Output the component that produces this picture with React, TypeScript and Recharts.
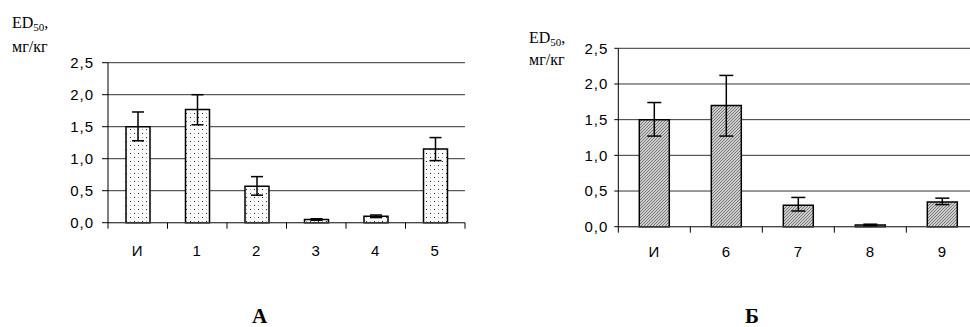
import React from 'react';
import { BarChart, Bar, XAxis, YAxis, CartesianGrid } from 'recharts';

const categoriesA = ['И', '1', '2', '3', '4', '5'];
const valuesA = [1.5, 1.77, 0.57, 0.05, 0.1, 1.15];
const errLowA = [0.22, 0.24, 0.14, 0.012, 0.02, 0.18];
const errHighA = [0.23, 0.23, 0.15, 0.012, 0.02, 0.18];

const categoriesB = ['И', '6', '7', '8', '9'];
const valuesB = [1.5, 1.7, 0.3, 0.025, 0.345];
const errLowB = [0.23, 0.43, 0.08, 0.01, 0.035];
const errHighB = [0.24, 0.42, 0.11, 0.01, 0.055];

const yTicks = [0, 0.5, 1, 1.5, 2, 2.5];

const dataA = categoriesA.map((c, i) => ({ c, v: valuesA[i], r: [valuesA[i] - errLowA[i], valuesA[i] + errHighA[i]] }));
const dataB = categoriesB.map((c, i) => ({ c, v: valuesB[i], r: [valuesB[i] - errLowB[i], valuesB[i] + errHighB[i]] }));

const SANS = '"Liberation Sans", Arial, sans-serif';
const SERIF = '"Liberation Serif", "Times New Roman", serif';

const fmt = (v: number) => v.toFixed(1).replace('.', ',');

const makeTick = (bw: number, n: number, labelDy: number) => (props: any) => {
  const { x, y, payload, index } = props;
  return (
    <g>
      <line x1={x - bw / 2} x2={x - bw / 2} y1={y} y2={y + 6} stroke="#000" strokeWidth={1} />
      {index === n - 1 && (
        <line x1={x + bw / 2} x2={x + bw / 2} y1={y} y2={y + 6} stroke="#000" strokeWidth={1} />
      )}
      <text x={x} y={y + labelDy} textAnchor="middle" fontFamily={SANS} fontSize={15} letterSpacing={1} fill="#000">
        {payload.value}
      </text>
    </g>
  );
};

const makeErrShape = (half: number) => (props: any) => {
  const { x, y, width, height } = props;
  const cx = x + width / 2;
  const y1 = y;
  const y2 = y + height;
  return (
    <g stroke="#000" strokeWidth={1.5} fill="none">
      <line x1={cx} x2={cx} y1={y1} y2={y2} />
      <line x1={cx - half} x2={cx + half} y1={y1} y2={y1} />
      <line x1={cx - half} x2={cx + half} y1={y2} y2={y2} />
    </g>
  );
};

type PanelProps = {
  data: any[];
  categories: string[];
  width: number;
  left: number;
  plotW: number;
  top: number;
  bottom: number;
  labelDy: number;
  yTickSize: number;
  yTickMargin: number;
  fill: string;
  barSize: number;
  capHalf: number;
  overlay: boolean;
};

function Panel(p: PanelProps) {
  const margin = { top: p.top, right: p.width - p.left - 40 - p.plotW, left: p.left, bottom: p.bottom };
  if (p.overlay) {
    return (
      <BarChart width={p.width} height={300} data={p.data} margin={margin}>
        <XAxis dataKey="c" height={30} interval={0} tick={false} tickLine={false} axisLine={false} />
        <YAxis width={40} domain={[0, 2.5]} ticks={yTicks} tick={false} tickLine={false} axisLine={false} />
        <Bar dataKey="r" barSize={p.barSize} isAnimationActive={false} shape={makeErrShape(p.capHalf)} />
      </BarChart>
    );
  }
  return (
    <BarChart width={p.width} height={300} data={p.data} margin={margin}>
      <CartesianGrid vertical={false} stroke="#333" strokeWidth={1} />
      <XAxis
        dataKey="c"
        height={30}
        interval={0}
        tickSize={0}
        tickMargin={0}
        tickLine={false}
        axisLine={{ stroke: '#444', strokeWidth: 1 }}
        tick={makeTick(p.plotW / p.categories.length, p.categories.length, p.labelDy)}
      />
      <YAxis
        width={40}
        domain={[0, 2.5]}
        ticks={yTicks}
        tickFormatter={fmt}
        tickSize={p.yTickSize}
        tickMargin={p.yTickMargin}
        tickLine={{ stroke: '#000' }}
        axisLine={{ stroke: '#000', strokeWidth: 1 }}
        tick={{ fill: '#000', fontSize: 15, fontFamily: SANS, letterSpacing: 1 }}
      />
      <Bar dataKey="v" fill={p.fill} stroke="#000" strokeWidth={1.5} barSize={p.barSize} isAnimationActive={false} />
    </BarChart>
  );
}

const panelA = {
  data: dataA, categories: categoriesA, width: 480, left: 68, plotW: 357, top: 62.7, bottom: 47.3,
  labelDy: 33, yTickSize: 6, yTickMargin: 8, fill: 'url(#dotsA)', barSize: 24, capHalf: 6,
};
const panelB = {
  data: dataB, categories: categoriesB, width: 500, left: 98.3, plotW: 360, top: 48.3, bottom: 43.3,
  labelDy: 30, yTickSize: 4, yTickMargin: 6, fill: 'url(#hatchB)', barSize: 30, capHalf: 7,
};

export default function App() {
  const abs = (l: number, z: number): React.CSSProperties => ({ position: 'absolute', left: l, top: 0, zIndex: z });
  return (
    <div style={{ position: 'fixed', left: 0, top: 0, width: 970, height: 327, overflow: 'hidden', background: '#fff' }}>
      <svg width={0} height={0} style={{ position: 'absolute' }}>
        <defs>
          <pattern id="dotsA" patternUnits="userSpaceOnUse" width={8} height={8}>
            <rect width={8} height={8} fill="#fbfbfb" />
            <rect x={2} y={1} width={1} height={1} fill="#222" />
            <rect x={6} y={5} width={1} height={1} fill="#222" />
            <rect x={6} y={1} width={1} height={1} fill="#b0b0b0" />
            <rect x={2} y={5} width={1} height={1} fill="#b0b0b0" />
          </pattern>
          <pattern id="hatchB" patternUnits="userSpaceOnUse" width={3} height={3}>
            <rect width={3} height={3} fill="#cfcfcf" />
            <path d="M0,3 L3,0 M-1,1 L1,-1 M2,4 L4,2" stroke="#6a6a6a" strokeWidth={0.9} />
          </pattern>
        </defs>
      </svg>

      <div style={abs(0, 1)}><Panel {...panelA} overlay={false} /></div>
      <div style={abs(0, 2)}><Panel {...panelA} overlay={true} /></div>
      <div style={abs(480, 1)}><Panel {...panelB} overlay={false} /></div>
      <div style={abs(480, 2)}><Panel {...panelB} overlay={true} /></div>

      <svg width={970} height={327} style={{ position: 'absolute', left: 0, top: 0, pointerEvents: 'none', zIndex: 3 }}>
        <text x={12} y={28} fontFamily={SERIF} fontSize={16} fill="#000">
          ED<tspan fontSize={11} dy={3}>50</tspan><tspan dy={-3}>,</tspan>
        </text>
        <text x={12} y={52} fontFamily={SERIF} fontSize={16} fill="#000">мг/кг</text>
        <text x={529} y={43} fontFamily={SERIF} fontSize={16} fill="#000">
          ED<tspan fontSize={11} dy={3}>50</tspan><tspan dy={-3}>,</tspan>
        </text>
        <text x={529} y={65} fontFamily={SERIF} fontSize={16} fill="#000">мг/кг</text>
        <text x={252} y={323} fontFamily={SERIF} fontSize={21} fontWeight="bold" fill="#000">А</text>
        <text x={745} y={323} fontFamily={SERIF} fontSize={21} fontWeight="bold" fill="#000">Б</text>
      </svg>
    </div>
  );
}
